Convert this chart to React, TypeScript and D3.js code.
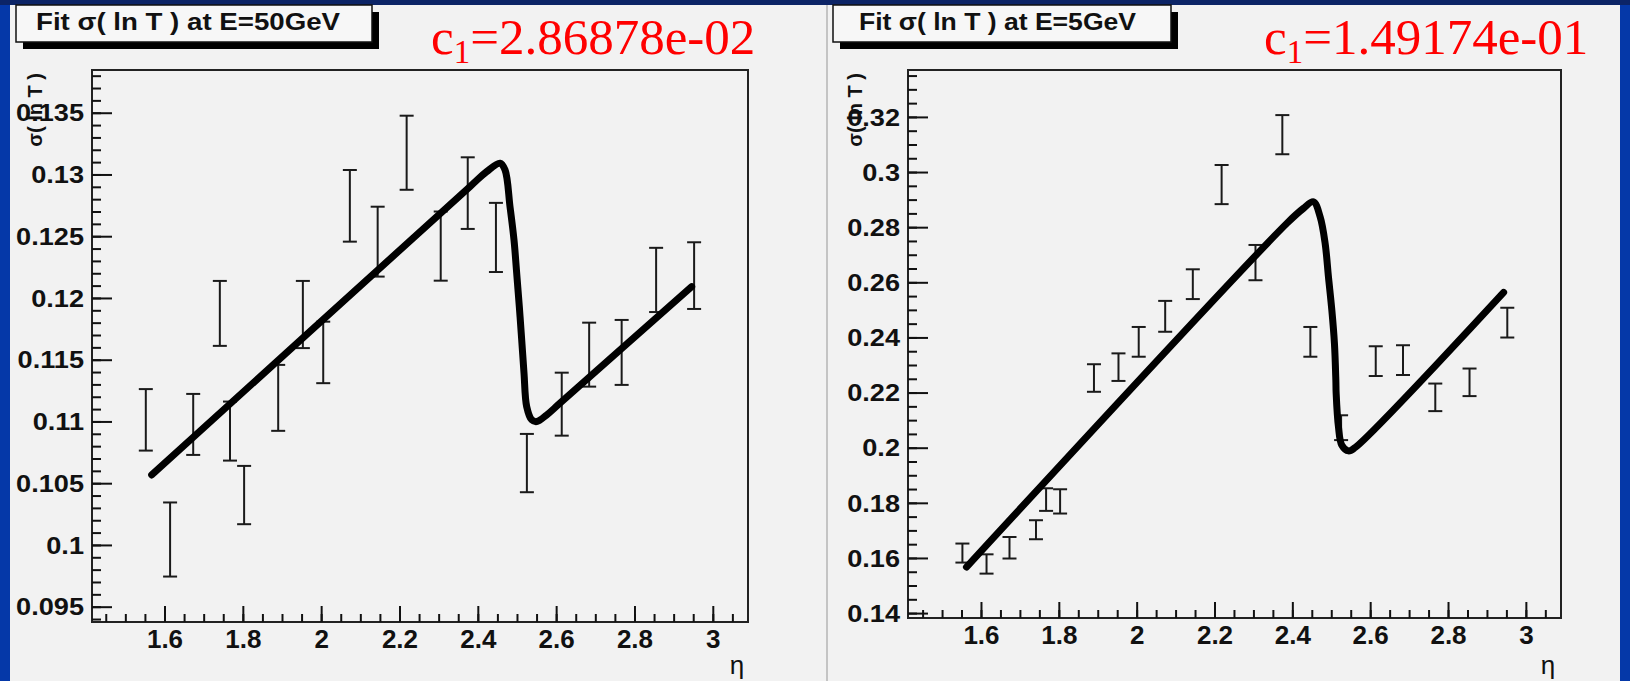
import * as d3 from "d3";

// eta bin centres, shared by both panels
const etaBins = [
  1.551, 1.613, 1.672, 1.74, 1.766, 1.802, 1.889, 1.952, 2.004, 2.072, 2.143,
  2.217, 2.304, 2.373, 2.445, 2.524, 2.613, 2.683, 2.766, 2.854, 2.951,
];

// E = 50 GeV : sigma(ln T) and its error
const sigma50 = [
  0.11017, 0.10048, 0.1098, 0.11879, 0.10926, 0.10408, 0.11195, 0.1187,
  0.11563, 0.1275, 0.1246, 0.1318, 0.12424, 0.12853, 0.12494, 0.10667,
  0.11144, 0.11545, 0.11563, 0.1215, 0.12185,
];
const err50 = [
  0.00249, 0.003, 0.00247, 0.00263, 0.00239, 0.00236, 0.00267, 0.00272,
  0.00249, 0.0029, 0.00283, 0.003, 0.0028, 0.0029, 0.0028, 0.00236, 0.00255,
  0.00259, 0.00263, 0.0026, 0.0027,
];

// E = 5 GeV
const sigma5 = [
  0.16196, 0.158, 0.16388, 0.17042, 0.18136, 0.1807, 0.22546, 0.2294, 0.23858,
  0.24784, 0.2595, 0.29564, 0.26733, 0.31374, 0.23858, 0.20744, 0.23158,
  0.23195, 0.21845, 0.2239, 0.24555,
];
const err5 = [
  0.00345, 0.0035, 0.0039, 0.00345, 0.0041, 0.0044, 0.005, 0.005, 0.0054,
  0.0056, 0.0054, 0.0071, 0.0064, 0.0071, 0.0054, 0.0045, 0.0054, 0.0054,
  0.005, 0.005, 0.0054,
];

// fitted curves
const fitEta50 = [
  1.566, 2.3788, 2.4214, 2.4554, 2.4682, 2.4809, 2.4911, 2.498, 2.5047, 2.5108,
  2.5167, 2.5235, 2.5363, 2.5491, 2.5746, 2.6085, 2.9448,
];
const fitSigma50 = [
  0.10571, 0.12906, 0.13027, 0.13095, 0.13041, 0.12744, 0.12474, 0.12204,
  0.11934, 0.11664, 0.11395, 0.11124, 0.11017, 0.11003, 0.11057, 0.11152,
  0.12096,
];
const fitEta5 = [
  1.5614, 2.3845, 2.4272, 2.4529, 2.4701, 2.483, 2.4915, 2.5002, 2.5069,
  2.5105, 2.5113, 2.5172, 2.5259, 2.5429, 2.5601, 2.9416,
];
const fitSigma5 = [
  0.1569, 0.28156, 0.287, 0.2894, 0.28396, 0.2743, 0.26218, 0.25009, 0.238,
  0.22468, 0.21986, 0.20773, 0.20109, 0.19902, 0.20025, 0.25652,
];

const xTicks = [1.6, 1.8, 2, 2.2, 2.4, 2.6, 2.8, 3];
const yTicks50 = [0.095, 0.1, 0.105, 0.11, 0.115, 0.12, 0.125, 0.13, 0.135];
const yTicks5 = [0.14, 0.16, 0.18, 0.2, 0.22, 0.24, 0.26, 0.28, 0.3, 0.32];

const SANS = "'Liberation Sans', Arial, sans-serif";
const SERIF = "'Liberation Serif', 'Times New Roman', serif";

type PanelCfg = {
  panelX: number;
  panelW: number;
  left: number;
  right: number;
  top: number;
  bottom: number;
  xDomain: [number, number];
  yDomain: [number, number];
  yTicks: number[];
  yMinor: number;
  eta: number[];
  val: number[];
  err: number[];
  fitX: number[];
  fitY: number[];
  boxX: number;
  boxW: number;
  title: string;
  titleX: number;
  titleLen: number;
  c1: string;
  c1X: number;
  yTitleX: number;
  etaX: number;
};

function Panel({ c }: { c: PanelCfg }) {
  const x = d3.scaleLinear().domain(c.xDomain).range([c.left, c.right]);
  const y = d3.scaleLinear().domain(c.yDomain).range([c.bottom, c.top]);

  const fitPts = c.fitX.map((e, i) => [e, c.fitY[i]] as [number, number]);
  const fitPath = d3
    .line<[number, number]>()
    .x((d) => x(d[0]))
    .y((d) => y(d[1]))
    .curve(d3.curveCatmullRom.alpha(0.5))(fitPts)!;

  // minor ticks
  const xMinor = d3
    .range(Math.ceil(c.xDomain[0] / 0.05), Math.floor(c.xDomain[1] / 0.05) + 1)
    .map((k) => k * 0.05);
  const yMinor = d3
    .range(
      Math.ceil(c.yDomain[0] / c.yMinor),
      Math.floor(c.yDomain[1] / c.yMinor) + 1
    )
    .map((k) => k * c.yMinor);

  return (
    <g>
      <rect x={c.panelX} y={5} width={c.panelW} height={676} fill="#f2f2f2" />

      {/* title box with shadow */}
      <rect x={c.boxX + 7} y={12} width={c.boxW} height={37} fill="#000" />
      <rect
        x={c.boxX}
        y={5}
        width={c.boxW}
        height={37}
        fill="#f7f7f7"
        stroke="#111"
        strokeWidth={1.5}
      />
      <text
        x={c.titleX}
        y={30}
        fontFamily={SANS}
        fontWeight="bold"
        fontSize={24}
        fill="#111"
        textLength={c.titleLen}
        lengthAdjust="spacingAndGlyphs"
      >
        {c.title}
      </text>

      <text x={c.c1X} y={54} fontFamily={SERIF} fontSize={51} fill="#ff0000">
        c
        <tspan fontSize={33} dy={9}>
          1
        </tspan>
        <tspan dy={-9}>={c.c1}</tspan>
      </text>

      {/* frame */}
      <rect
        x={c.left}
        y={c.top}
        width={c.right - c.left}
        height={c.bottom - c.top}
        fill="none"
        stroke="#222"
        strokeWidth={2}
      />

      {/* x ticks */}
      {xMinor.map((v) => (
        <line
          key={"xm" + v}
          x1={x(v)}
          x2={x(v)}
          y1={c.bottom}
          y2={c.bottom - 8}
          stroke="#111"
          strokeWidth={2}
        />
      ))}
      {xTicks.map((v) => (
        <g key={"x" + v}>
          <line
            x1={x(v)}
            x2={x(v)}
            y1={c.bottom}
            y2={c.bottom - 16}
            stroke="#111"
            strokeWidth={2}
          />
          <text
            x={x(v)}
            y={c.bottom + 26}
            textAnchor="middle"
            fontFamily={SANS}
            fontWeight="bold"
            fontSize={26}
            fill="#111"
          >
            {String(v)}
          </text>
        </g>
      ))}

      {/* y ticks */}
      {yMinor.map((v) => (
        <line
          key={"ym" + v}
          x1={c.left}
          x2={c.left + 9}
          y1={y(v)}
          y2={y(v)}
          stroke="#111"
          strokeWidth={2}
        />
      ))}
      {c.yTicks.map((v) => (
        <g key={"y" + v}>
          <line
            x1={c.left}
            x2={c.left + 20}
            y1={y(v)}
            y2={y(v)}
            stroke="#111"
            strokeWidth={2}
          />
          <text
            transform={`translate(${c.left - 8},${y(v)}) scale(1.18,1)`}
            textAnchor="end"
            dominantBaseline="central"
            fontFamily={SANS}
            fontWeight="bold"
            fontSize={23}
            fill="#111"
          >
            {String(v)}
          </text>
        </g>
      ))}

      {/* axis titles */}
      <text
        transform={`translate(${c.yTitleX},73) rotate(-90)`}
        textAnchor="end"
        fontFamily={SANS}
        fontWeight="bold"
        fontSize={20}
        fill="#111"
      >
        σ( ln T )
      </text>
      <text
        x={c.etaX}
        y={674}
        textAnchor="middle"
        fontFamily={SANS}
        fontSize={26}
        fill="#111"
      >
        η
      </text>

      {/* error bars */}
      {c.eta.map((e, i) => {
        const cx = x(e);
        const y1 = y(c.val[i] + c.err[i]);
        const y2 = y(c.val[i] - c.err[i]);
        return (
          <g key={"b" + i} stroke="#1a1a1a" strokeWidth={2}>
            <line x1={cx} x2={cx} y1={y1} y2={y2} />
            <line x1={cx - 7} x2={cx + 7} y1={y1} y2={y1} />
            <line x1={cx - 7} x2={cx + 7} y1={y2} y2={y2} />
          </g>
        );
      })}

      {/* fit */}
      <path
        d={fitPath}
        fill="none"
        stroke="#000"
        strokeWidth={7}
        strokeLinejoin="round"
        strokeLinecap="round"
      />
    </g>
  );
}

export default function App() {
  const leftCfg: PanelCfg = {
    panelX: 10,
    panelW: 816,
    left: 92,
    right: 748,
    top: 70,
    bottom: 622,
    xDomain: [1.4136, 3.0886],
    yDomain: [0.0938, 0.1385],
    yTicks: yTicks50,
    yMinor: 0.001,
    eta: etaBins,
    val: sigma50,
    err: err50,
    fitX: fitEta50,
    fitY: fitSigma50,
    boxX: 16,
    boxW: 356,
    title: "Fit σ( ln T ) at E=50GeV",
    titleX: 36,
    titleLen: 304,
    c1: "2.86878e-02",
    c1X: 431,
    yTitleX: 42,
    etaX: 737,
  };
  const rightCfg: PanelCfg = {
    panelX: 828,
    panelW: 792,
    left: 908,
    right: 1561,
    top: 70,
    bottom: 618,
    xDomain: [1.4112, 3.089],
    yDomain: [0.1384, 0.3372],
    yTicks: yTicks5,
    yMinor: 0.005,
    eta: etaBins,
    val: sigma5,
    err: err5,
    fitX: fitEta5,
    fitY: fitSigma5,
    boxX: 833,
    boxW: 338,
    title: "Fit σ( ln T ) at E=5GeV",
    titleX: 859,
    titleLen: 277,
    c1: "1.49174e-01",
    c1X: 1264,
    yTitleX: 862,
    etaX: 1548,
  };

  return (
    <svg
      width={1630}
      height={681}
      style={{ position: "absolute", left: 0, top: 0, display: "block" }}
    >
      <rect x={0} y={0} width={1630} height={681} fill="#0538a8" />
      <rect x={0} y={0} width={1630} height={5} fill="#0c2466" />
      <Panel c={leftCfg} />
      <rect x={826} y={5} width={2} height={676} fill="#c4c4c4" />
      <Panel c={rightCfg} />
    </svg>
  );
}
